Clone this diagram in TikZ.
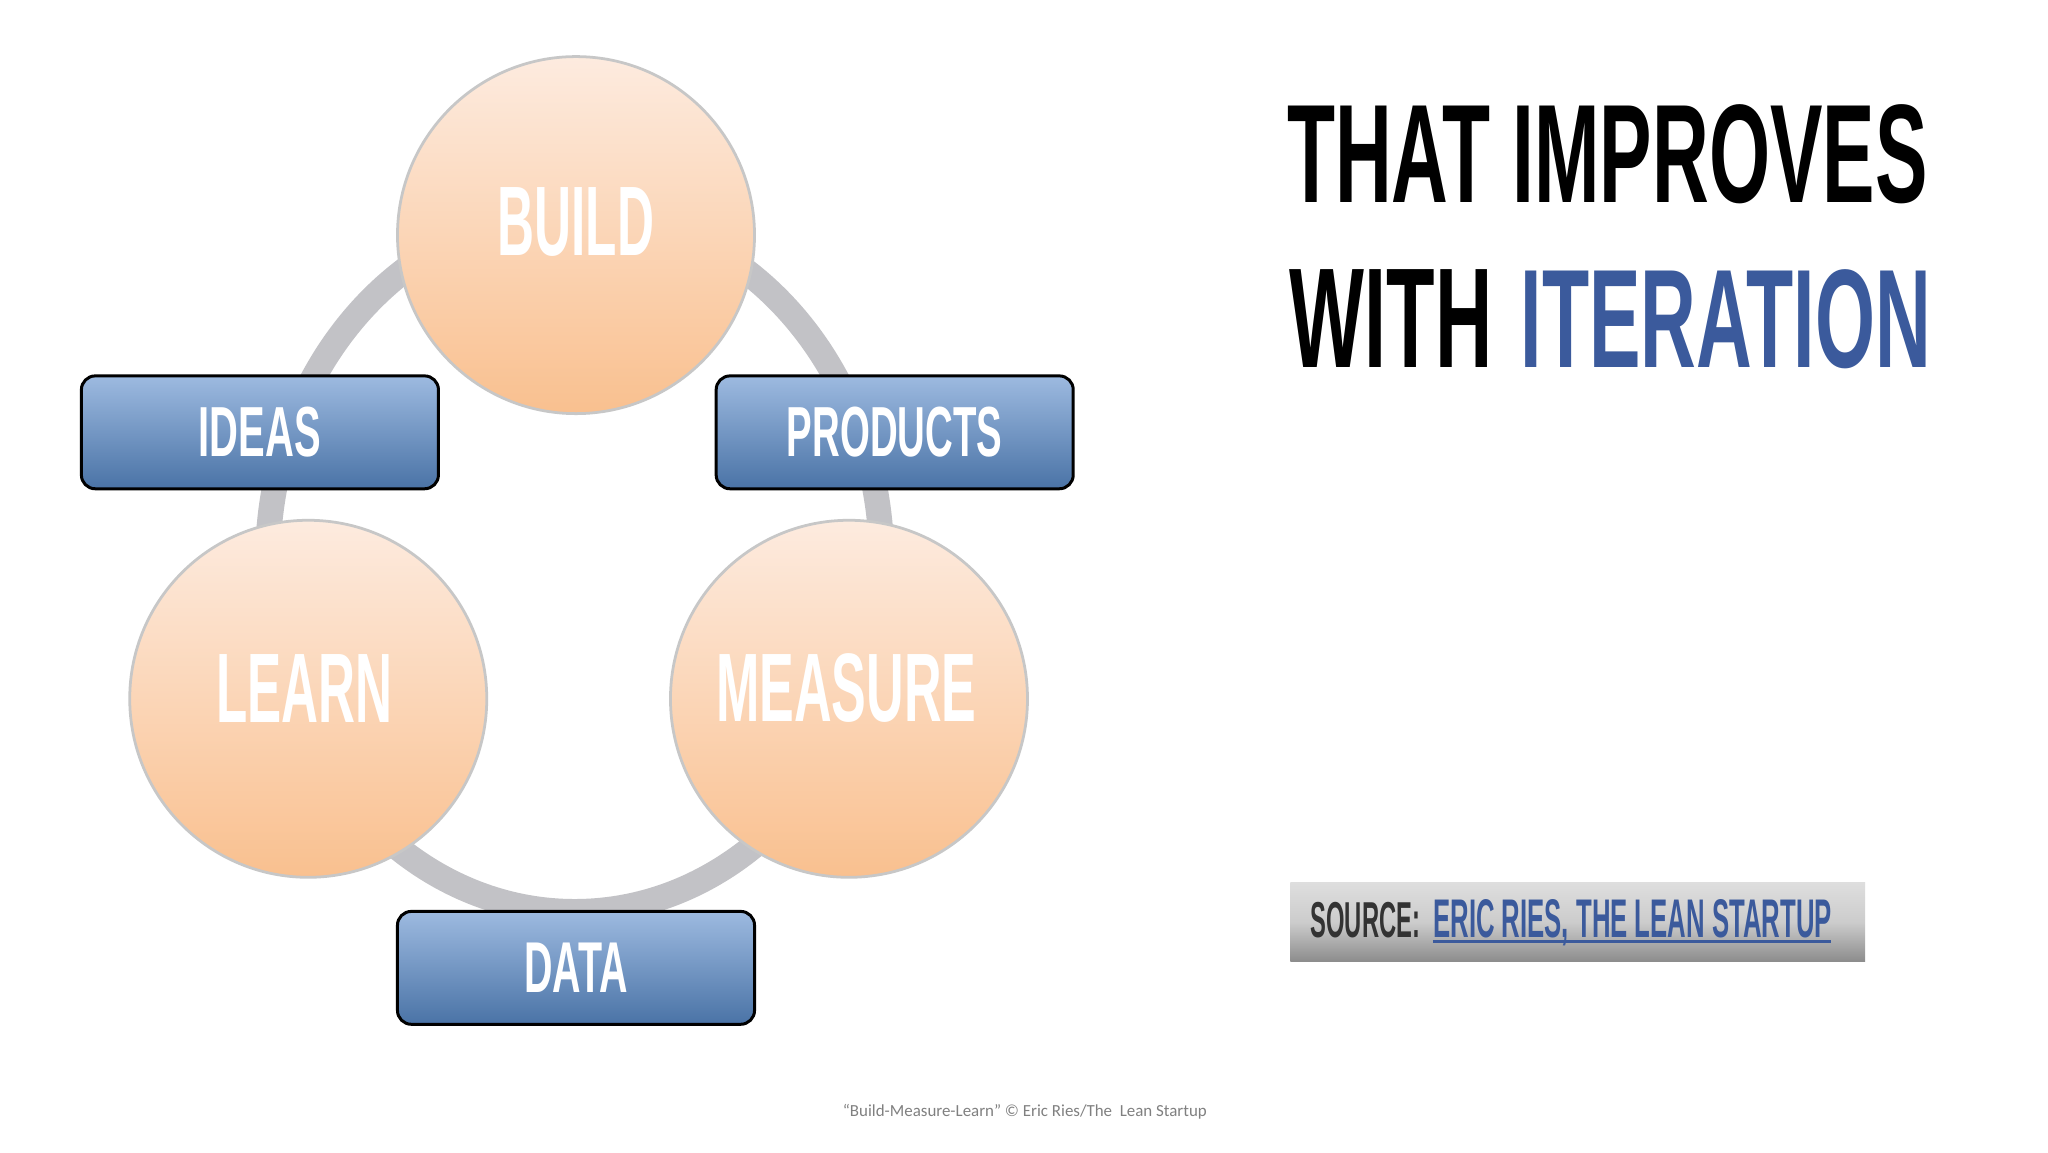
\documentclass[tikz,border=0pt]{standalone}
\usepackage{fontspec}
\usepackage{graphicx}
\newfontfamily\cond[FakeStretch=0.6]{Liberation Sans Bold}
\setmainfont{Carlito}
\definecolor{ringgray}{HTML}{C2C2C6}
\definecolor{circtop}{HTML}{FDEBDF}
\definecolor{circbot}{HTML}{F9C08F}
\definecolor{boxtop}{HTML}{9DBAE0}
\definecolor{boxbot}{HTML}{4A73A6}
\definecolor{itblue}{HTML}{3B5A9C}
\newcommand{\fitw}[3]{\resizebox{#1pt}{#2pt}{\cond #3}}
\tikzset{
 stage/.style={circle,draw=black!22,line width=1.2pt,top color=circtop,bottom color=circbot,minimum size=155pt,inner sep=0pt},
 flow/.style={rounded corners=6pt,draw=black,line width=1.3pt,top color=boxtop,bottom color=boxbot,minimum width=155pt,minimum height=49pt,inner sep=0pt,text=white},
 lbl/.style={inner sep=0pt,text=white},
}
\begin{document}
\begin{tikzpicture}[x=0.567pt,y=-0.567pt]
\useasboundingbox[fill=white] (0,0) rectangle (1568,882);
% ring
\draw[ringgray,line width=11pt] (440,430) ellipse [x radius=235,y radius=268];
% circles
\node[stage] (build) at (441,180) {};
\node[stage] (learn) at (236,535) {};
\node[stage] (measure) at (650,535) {};
\node[lbl] at (441,170) {\fitw{68}{29.5}{BUILD}};
\node[lbl] at (233,527) {\fitw{76.5}{29.5}{LEARN}};
\node[lbl] at (648,527) {\fitw{113}{29.5}{MEASURE}};
% boxes
\node[flow] (ideas) at (199,331) {\fitw{53}{21.5}{IDEAS}};
\node[flow] (products) at (685,331) {\fitw{93.5}{21.5}{PRODUCTS}};
\node[flow] (data) at (441,741) {\fitw{45}{21.5}{DATA}};
% title
\node[anchor=base west,inner sep=0pt] (t1) at (985,155) {\fitw{278}{42.5}{THAT IMPROVES}};
\node[anchor=base west,inner sep=0pt] (t2) at (987,281) {\fitw{88}{42.5}{WITH}};
\node[anchor=base west,inner sep=0pt,text=itblue] (t3) at (1164,281) {\fitw{178}{42.5}{ITERATION}};
% source box
\path[top color=black!13,bottom color=black!45,middle color=black!20] (988,676) rectangle (1428,736);
\node[anchor=base west,inner sep=0pt,text=black!80] (src) at (1003,718) {\fitw{47.6}{15.3}{SOURCE:}};
\node[anchor=base west,inner sep=0pt,text=itblue] (ref) at (1097,718) {\resizebox{173pt}{16.5pt}{\cond ERIC RIES, THE LEAN STARTUP}};
\draw[itblue,line width=1.4pt] (1097,721) -- (1402,721);
% footer
\node[anchor=base west,inner sep=0pt,text=black!50] (foot) at (645,855) {\resizebox{158pt}{!}{\fontsize{8}{9}\selectfont ``Build-Measure-Learn'' \textcopyright{} Eric Ries/The\ \ Lean Startup}};
\end{tikzpicture}
\end{document}
